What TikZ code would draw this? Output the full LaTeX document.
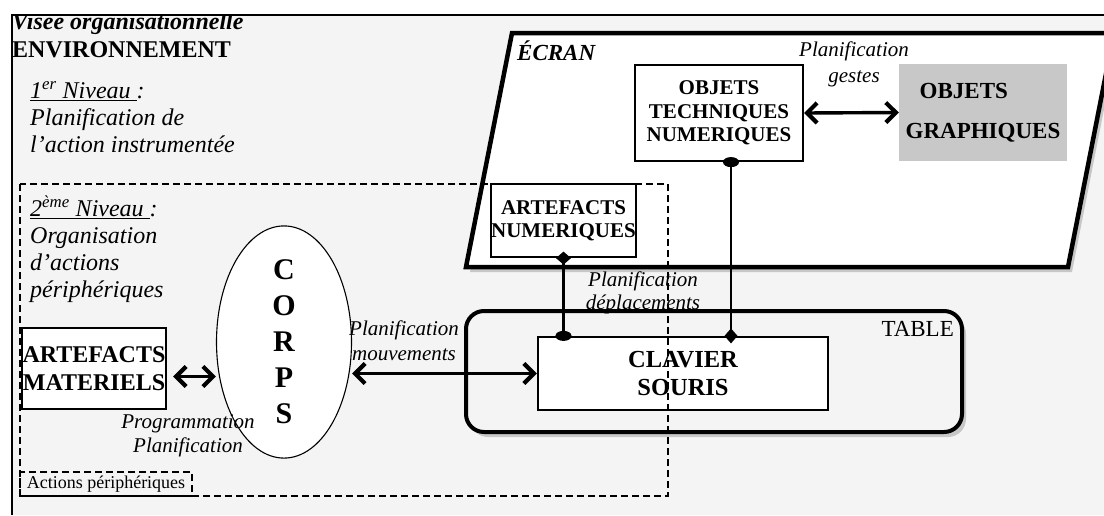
\documentclass[tikz,border=0pt]{standalone}
\usepackage{fontspec}
\setmainfont{Liberation Serif}
\usepackage{xcolor}
\usetikzlibrary{arrows.meta,shapes.geometric,shadows}

\definecolor{fond}{HTML}{F4F4F4}
\definecolor{grisgraph}{HTML}{C8C8C8}

\tikzset{
  boite/.style={draw,line width=2.2pt,fill=white,inner sep=0pt,align=center,font=\fontsize{21}{23.5}\selectfont\bfseries},
  legende/.style={inner sep=0pt,align=center,font=\fontsize{21}{24}\selectfont\itshape},
  niveau/.style={inner sep=0pt,align=left,anchor=north west,font=\fontsize{24}{27}\selectfont\itshape},
  ombre/.style={drop shadow={shadow xshift=4pt,shadow yshift=-5pt,fill=black,opacity=0.18}},
  pointille/.style={line width=1.3pt,dash pattern=on 7pt off 4pt},
  doublefleche/.style={{Straight Barb[length=10pt,width=20pt,line width=4.2pt]}-{Straight Barb[length=10pt,width=20pt,line width=4.2pt]},line width=3.4pt},
  lien/.style={line width=2.2pt},
}

\begin{document}
\begin{tikzpicture}[x=1pt,y=-1pt]
  \useasboundingbox (0,0) rectangle (1104,515);
  \clip (0,0) rectangle (1104,515);
  \fill [white] (0,0) rectangle (1104,515);
  \fill [fond] (12,15) rectangle (1104,515);
  \begin{scope}
    \clip (12,15) rectangle (1104,515);
    \node [anchor=base west,inner sep=0pt,font=\fontsize{24}{24}\selectfont\bfseries\itshape] (visee) at (12,29) {Visée organisationnelle};
  \end{scope}
  \draw [line width=1.6pt] (12,515) -- (12,15) -- (1104,15);
  \node [anchor=base west,inner sep=0pt,font=\fontsize{24}{24}\selectfont\bfseries] (env) at (12,57) {ENVIRONNEMENT};

  \node [niveau] (niv1) at (30,81) {\underline{1\textsuperscript{er} Niveau }:\\Planification de\\l’action instrumentée};
  \node [niveau] (niv2) at (30,196) {\underline{2\textsuperscript{ème} Niveau }:\\Organisation\\d’actions\\périphériques};

  % ecran et table
  \draw [line width=4.5pt,fill=white,ombre] (466,267) -- (512,33) -- (1114,33) -- (1068,267) -- cycle;
  \node [anchor=base west,inner sep=0pt,font=\fontsize{23}{23}\selectfont\bfseries\itshape] (ecran) at (517,60) {ÉCRAN};
  \node [draw,line width=4pt,rounded corners=18pt,fill=fond,minimum width=496,minimum height=121,ombre] (table) at (714,371.5) {};
  \node [anchor=base east,inner sep=0pt,font=\fontsize{23}{23}\selectfont] (tablelbl) at (954,336) {TABLE};

  \node [boite,minimum width=168,minimum height=96] (otn) at (719,113) {OBJETS\\TECHNIQUES\\NUMERIQUES};
  \node [fill=grisgraph,inner sep=0pt,minimum width=168,minimum height=97,align=left,font=\fontsize{23}{40}\selectfont\bfseries] (og) at (983,112.5) {\hspace*{14pt}OBJETS\\GRAPHIQUES};
  \node [boite,minimum width=145,minimum height=73] (artnum) at (563.5,220.5) {ARTEFACTS\\NUMERIQUES};
  \node [boite,minimum width=290,minimum height=73,font=\fontsize{24.5}{28}\selectfont\bfseries] (clavier) at (683,373.5) {CLAVIER\\SOURIS};
  \node [boite,minimum width=144,minimum height=81,font=\fontsize{24}{28}\selectfont\bfseries] (matos) at (94,368.5) {ARTEFACTS\\MATERIELS};
  \node [ellipse,draw,line width=1.1pt,fill=white,minimum width=135,minimum height=208,inner sep=0pt,align=center,font=\fontsize{30}{36}\selectfont\bfseries] (corps) at (284,342) {C\\O\\R\\P\\S};

  % fleches
  \draw [doublefleche] (otn.east) -- (og.west);
  \draw [doublefleche] ([xshift=6pt,yshift=-8pt]matos.east) -- ([yshift=-8pt]matos.east -| corps.west);
  \draw [doublefleche,line width=2.4pt] (clavier.west) -- (clavier.west -| corps.east);
  \draw [lien,{Diamond[length=13pt,width=15pt]}-{Ellipse[length=10pt,width=16pt]},shorten <=-6.5pt,shorten >=-5pt] (artnum.south) -- (artnum.south |- clavier.north);
  \draw [lien,{Ellipse[length=10pt,width=16pt]}-{Diamond[length=15pt,width=13pt]},shorten <=-5pt,shorten >=-7.5pt] (otn.south -| 731,0) -- (clavier.north -| 731,0);

  \node [legende,font=\fontsize{21}{26}\selectfont\itshape] (gestes) at (854,64) {Planification\\gestes};
  \node [legende,font=\fontsize{21}{23}\selectfont\itshape] (deplac) at (643,293) {Planification\\déplacements};
  \node [legende,font=\fontsize{21}{25}\selectfont\itshape] (mouv) at (404,341) {Planification\\mouvements};
  \node [legende] (prog) at (188,436) {Programmation\\Planification};

  % pointilles
  \draw [pointille] (20,184) rectangle (668,496);
  \node [draw,pointille,line width=1.9pt,inner sep=0pt,minimum width=172,minimum height=24,font=\fontsize{18}{18}\selectfont] (actions) at (106,484) {Actions périphériques};
\end{tikzpicture}
\end{document}
